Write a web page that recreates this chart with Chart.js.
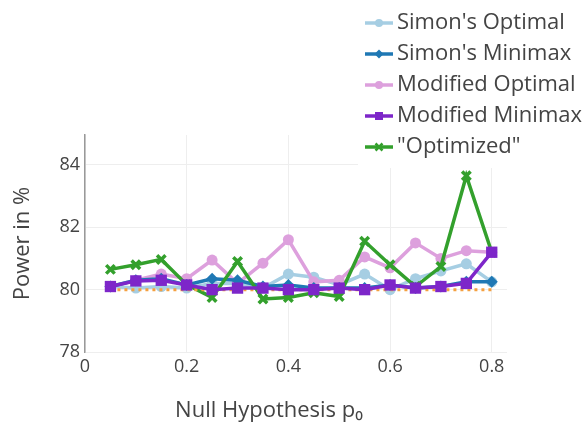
<!DOCTYPE html>
<html>
<head>
<meta charset="utf-8">
<script src="https://cdn.jsdelivr.net/npm/chart.js@4"></script>
<style>
  body { margin: 0; background: #fff; }
</style>
</head>
<body>
<canvas id="powerChart" width="585" height="425"></canvas>
<script>
// null hypothesis values p0
const p0 = [0.05, 0.1, 0.15, 0.2, 0.25, 0.3, 0.35, 0.4, 0.45, 0.5, 0.55, 0.6, 0.65, 0.7, 0.75, 0.8];

// power in % for each design
const simonOptimal    = [80.1, 80.05, 80.1, 80.05, 80.2, 80.2, 80.05, 80.5, 80.4, 80.15, 80.5, 80.0, 80.35, 80.6, 80.83, 80.25];
const simonMinimax    = [80.1, 80.3, 80.35, 80.15, 80.35, 80.3, 80.1, 80.15, 80.05, 80.05, 80.05, 80.15, 80.05, 80.1, 80.25, 80.25];
const modifiedOptimal = [80.1, 80.3, 80.5, 80.35, 80.95, 80.2, 80.85, 81.6, 80.25, 80.3, 81.05, 80.7, 81.5, 81.0, 81.25, 81.2];
const modifiedMinimax = [80.1, 80.28, 80.3, 80.15, 80.0, 80.05, 80.05, 80.0, 80.0, 80.05, 80.0, 80.15, 80.05, 80.1, 80.2, 81.2];
const optimized       = [80.65, 80.8, 80.97, 80.16, 79.75, 80.9, 79.7, 79.75, 79.9, 79.78, 81.55, 80.8, 80.1, 80.74, 83.65, 81.2];
const target          = [80, 80, 80, 80, 80, 80, 80, 80, 80, 80, 80, 80, 80, 80, 80, 80];

const yTicks = [78, 80, 82, 84];
const xTicks = [0, 0.2, 0.4, 0.6, 0.8];

const FONT = "'Open Sans', sans-serif";
const TEXT = '#444';

function pts(values) {
    return p0.map((x, i) => ({ x: x, y: values[i] }));
}

function series(label, values, color, style, radius, order) {
    return {
        label: label,
        data: pts(values),
        borderColor: color,
        backgroundColor: color,
        borderWidth: 3.5,
        pointStyle: style,
        pointRadius: radius,
        pointBorderWidth: style === 'crossRot' ? 3.5 : 0,
        pointBorderColor: color,
        tension: 0,
        order: order
    };
}

const datasets = [
    series("Simon's Optimal", simonOptimal, '#a6cee3', 'circle', 5.5, 5),
    series("Simon's Minimax", simonMinimax, '#1f78b4', 'rectRot', 6, 3),
    series('Modified Optimal', modifiedOptimal, '#dda0dd', 'circle', 5.5, 4),
    series('Modified Minimax', modifiedMinimax, '#7d26c9', 'rect', 8, 0),
    series('"Optimized"', optimized, '#33a02c', 'crossRot', 6, 2),
    {
        label: 'target',
        data: pts(target),
        borderColor: '#f4a040',
        borderWidth: 3,
        borderDash: [3, 4],
        pointRadius: 0,
        order: 1
    }
];

// legend and x title drawn by hand, the legend sits over the plot
const legendBox = {
    id: 'legendBox',
    afterDraw(chart) {
        const ctx = chart.ctx;
        ctx.save();
        ctx.fillStyle = '#fff';
        ctx.fillRect(358, 0, 227, 168);
        const rows = datasets.slice(0, 5);
        rows.forEach((ds, i) => {
            const y = 23 + i * 31;
            ctx.strokeStyle = ds.borderColor;
            ctx.lineWidth = 3.5;
            ctx.setLineDash([]);
            ctx.beginPath();
            ctx.moveTo(365, y);
            ctx.lineTo(393, y);
            ctx.stroke();
            ctx.fillStyle = ds.borderColor;
            const cx = 379;
            ctx.beginPath();
            if (ds.pointStyle === 'circle') {
                ctx.arc(cx, y, 4, 0, Math.PI * 2);
                ctx.fill();
            } else if (ds.pointStyle === 'rect') {
                ctx.fillRect(cx - 4, y - 4, 8, 8);
            } else if (ds.pointStyle === 'rectRot') {
                ctx.moveTo(cx, y - 4.5);
                ctx.lineTo(cx + 4.5, y);
                ctx.lineTo(cx, y + 4.5);
                ctx.lineTo(cx - 4.5, y);
                ctx.closePath();
                ctx.fill();
            } else {
                ctx.lineWidth = 2.5;
                ctx.moveTo(cx - 3.5, y - 3.5); ctx.lineTo(cx + 3.5, y + 3.5);
                ctx.moveTo(cx + 3.5, y - 3.5); ctx.lineTo(cx - 3.5, y + 3.5);
                ctx.stroke();
            }
            ctx.fillStyle = TEXT;
            ctx.font = '22px ' + FONT;
            ctx.textBaseline = 'middle';
            ctx.textAlign = 'left';
            ctx.fillText(ds.label, 397, y);
        });

        ctx.fillStyle = TEXT;
        ctx.font = '22px ' + FONT;
        ctx.textAlign = 'center';
        ctx.textBaseline = 'middle';
        ctx.fillText('Null Hypothesis p₀', 269, 411);
        ctx.restore();
    }
};

const powerChart = new Chart(document.getElementById('powerChart'), {
    type: 'line',
    data: { datasets: datasets },
    options: {
        responsive: false,
        animation: false,
        layout: { padding: { top: 135, right: 78, left: 0, bottom: 0 } },
        plugins: {
            legend: { display: false },
            tooltip: { enabled: false }
        },
        scales: {
            x: {
                type: 'linear',
                min: 0,
                max: 0.83,
                afterFit(scale) { scale.height = 73; },
                afterBuildTicks(scale) { scale.ticks = xTicks.map(v => ({ value: v })); },
                grid: { color: '#eee', lineWidth: 1, drawTicks: false },
                border: { display: false },
                ticks: {
                    color: TEXT,
                    font: { family: FONT, size: 18 },
                    padding: 4,
                    maxRotation: 0,
                    callback: v => String(v)
                }
            },
            y: {
                min: 78,
                max: 84.96,
                afterFit(scale) { scale.width = 85; },
                afterBuildTicks(scale) { scale.ticks = yTicks.map(v => ({ value: v })); },
                grid: { color: '#eee', lineWidth: 1, drawTicks: false },
                border: { display: true, color: '#999', width: 1.5 },
                ticks: {
                    color: TEXT,
                    font: { family: FONT, size: 18 },
                    padding: 5
                },
                title: {
                    display: true,
                    text: 'Power in %',
                    color: TEXT,
                    font: { family: FONT, size: 22 },
                    padding: { top: 10, bottom: 0 }
                }
            }
        }
    },
    plugins: [legendBox]
});
</script>
</body>
</html>
